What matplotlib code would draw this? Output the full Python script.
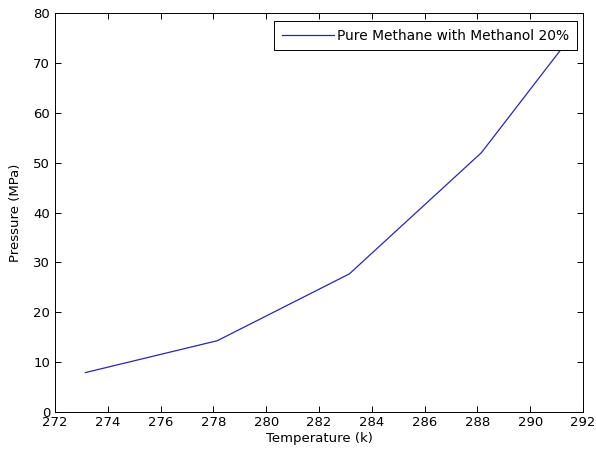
import matplotlib
matplotlib.use('Agg')
from matplotlib import pyplot as plt

plt.rcParams['font.family'] = ['DejaVu Sans']

# data
temperature = [273.15, 278.15, 283.15, 288.15, 291.5]
pressure = [7.9, 14.3, 27.7, 52.0, 75.0]
label = 'Pure Methane with Methanol 20%'

fig = plt.figure(figsize=(5.96, 4.57), dpi=100)
ax = fig.add_axes([0.0923, 0.0985, 0.886, 0.873])

ax.plot(temperature, pressure, color='#2828a8', linewidth=0.9, label=label)

ax.set_xlim(272, 292)
ax.set_ylim(0, 80)
ax.set_xticks(range(272, 293, 2))
ax.set_yticks(range(0, 81, 10))
ax.tick_params(direction='in', top=True, right=True, labelsize=9.5, length=4, width=0.7)
ax.tick_params(axis='y', pad=3.5)
ax.tick_params(axis='x', pad=3)
for s in ax.spines.values():
    s.set_linewidth(0.7)

ax.set_xlabel('Temperature (k)', fontsize=9.5, labelpad=2)
ax.set_ylabel('Pressure (MPa)', fontsize=9.5, labelpad=8)

leg = ax.legend(loc='upper right', bbox_to_anchor=(0.9886, 0.98), borderaxespad=0,
                fontsize=9.9, fancybox=False, framealpha=1, edgecolor='black',
                handlelength=3.8, borderpad=0.55, handletextpad=0.25)
leg.get_frame().set_linewidth(0.7)

fig.savefig('out.png', dpi=100)
